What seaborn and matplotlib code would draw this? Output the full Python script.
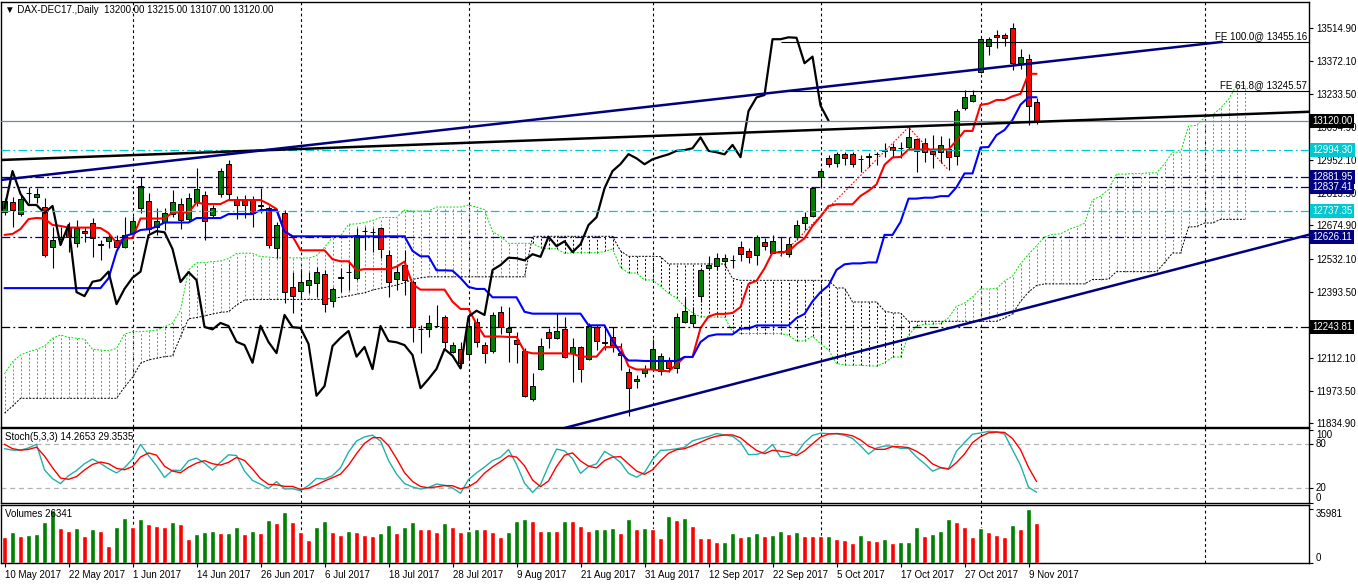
import numpy as np
import pandas as pd
import matplotlib
matplotlib.use("Agg")
import matplotlib.pyplot as plt
import seaborn as sns

# daily bars of DAX-DEC17
open_ = [12732, 12776, 12724, 12813, 12796, 12753, 12584, 12618, 12668, 12601,
         12651, 12686, 12596, 12610, 12613, 12584, 12644, 12749, 12779, 12670,
         12691, 12724, 12766, 12702, 12775, 12804, 12719, 12809, 12936, 12783,
         12787, 12783, 12762, 12749, 12579, 12728, 12414, 12398, 12422, 12429,
         12468, 12356, 12456, 12477, 12451, 12653, 12647, 12664, 12550, 12448,
         12507, 12435, 12235, 12235, 12249, 12286, 12138, 12150, 12128, 12265,
         12167, 12143, 12309, 12224, 12189, 12142, 11938, 12065, 12223, 12198,
         12235, 12135, 12159, 12108, 12244, 12177, 12201, 12132, 12054, 12014,
         12050, 12067, 12057, 12105, 12068, 12266, 12262, 12377, 12493, 12504,
         12525, 12528, 12582, 12567, 12550, 12606, 12559, 12567, 12553, 12625,
         12684, 12715, 12880, 12963, 12942, 12978, 12977, 12957, 12968, 12978,
         12993, 13007, 13004, 13007, 13041, 13024, 12991, 12988, 12998, 12971,
         13175, 13205, 13328, 13437, 13484, 13484, 13512, 13366, 13381, 13200]
high = [12792, 12796, 12804, 12838, 12834, 12792, 12668, 12668, 12690, 12698,
        12668, 12707, 12613, 12643, 12634, 12711, 12715, 12881, 12813, 12749,
        12749, 12826, 12792, 12813, 12919, 12821, 12762, 12919, 12953, 12800,
        12804, 12800, 12834, 12758, 12690, 12741, 12479, 12486, 12479, 12500,
        12486, 12415, 12494, 12520, 12664, 12670, 12664, 12670, 12571, 12507,
        12571, 12443, 12252, 12295, 12337, 12295, 12181, 12181, 12295, 12282,
        12181, 12309, 12333, 12330, 12224, 12155, 12048, 12197, 12240, 12305,
        12288, 12197, 12164, 12261, 12252, 12245, 12244, 12176, 12070, 12040,
        12082, 12193, 12133, 12116, 12303, 12367, 12330, 12494, 12545, 12559,
        12554, 12550, 12609, 12578, 12635, 12621, 12635, 12627, 12625, 12698,
        12733, 12840, 12918, 12974, 12988, 12988, 12988, 12974, 12981, 12988,
        13025, 13025, 13029, 13092, 13045, 13045, 13059, 13055, 13045, 13168,
        13250, 13250, 13471, 13474, 13505, 13494, 13536, 13423, 13403, 13215]
low = [12719, 12668, 12715, 12770, 12770, 12541, 12494, 12596, 12562, 12584,
       12605, 12541, 12528, 12579, 12579, 12579, 12626, 12728, 12643, 12634,
       12656, 12711, 12660, 12690, 12758, 12613, 12707, 12796, 12783, 12702,
       12707, 12668, 12728, 12579, 12537, 12346, 12305, 12367, 12388, 12372,
       12309, 12330, 12394, 12401, 12443, 12571, 12564, 12537, 12373, 12401,
       12380, 12181, 12135, 12203, 12245, 12155, 12132, 12070, 12112, 12160,
       12091, 12132, 12214, 12096, 12092, 11947, 11931, 12061, 12155, 12193,
       12112, 12012, 12012, 12104, 12146, 12146, 12139, 12061, 11866, 11985,
       12032, 12061, 12040, 12053, 12048, 12261, 12245, 12351, 12486, 12486,
       12500, 12494, 12525, 12517, 12507, 12571, 12557, 12545, 12542, 12613,
       12656, 12711, 12840, 12925, 12925, 12932, 12925, 12903, 12925, 12932,
       12966, 12966, 12961, 12995, 12903, 12946, 12918, 12939, 12911, 12932,
       13165, 13201, 13321, 13399, 13427, 13437, 13335, 13338, 13102, 13107]
close = [12779, 12741, 12787, 12811, 12809, 12550, 12613, 12626, 12626, 12664,
         12643, 12622, 12594, 12626, 12584, 12634, 12695, 12843, 12660, 12695,
         12728, 12775, 12698, 12792, 12830, 12695, 12749, 12906, 12809, 12762,
         12762, 12728, 12758, 12592, 12677, 12392, 12375, 12436, 12443, 12479,
         12341, 12406, 12453, 12479, 12634, 12651, 12646, 12575, 12435, 12477,
         12443, 12244, 12234, 12261, 12248, 12181, 12167, 12092, 12249, 12180,
         12133, 12295, 12243, 12240, 12172, 11952, 11993, 12163, 12198, 12227,
         12118, 12159, 12065, 12248, 12184, 12179, 12167, 12125, 11984, 12023,
         12066, 12150, 12122, 12068, 12288, 12313, 12295, 12486, 12507, 12538,
         12536, 12527, 12553, 12542, 12627, 12587, 12608, 12562, 12595, 12677,
         12710, 12833, 12906, 12936, 12978, 12960, 12935, 12956, 12967, 12977,
         12992, 12995, 13003, 13049, 12992, 12986, 12977, 13017, 12965, 13161,
         13219, 13229, 13466, 13466, 13474, 13472, 13364, 13392, 13184, 13120]
volume = [17380, 20510, 18050, 18720, 19390, 27460, 35600, 23430, 21410, 23430,
          18050, 22760, 21410, 11320, 24100, 30150, 24100, 29480, 26120, 24770,
          24100, 27460, 26120, 16030, 19390, 20740, 21410, 20070, 20290, 24100,
          19390, 21410, 20070, 28810, 26790, 34190, 27460, 20740, 15360, 24100,
          28140, 20740, 18720, 21410, 20740, 18720, 18050, 20070, 25450, 20070,
          24100, 27460, 22760, 22650, 20740, 26570, 23880, 20510, 21190, 22530,
          22420, 20510, 17150, 20510, 27910, 29260, 27910, 21190, 21410, 21190,
          27910, 27800, 24550, 21190, 22530, 22640, 23210, 19840, 29260, 22530,
          23210, 22530, 16480, 31280, 28590, 29930, 24550, 16480, 16370, 13790,
          13900, 19840, 17150, 18050, 20070, 18050, 18720, 21410, 19390, 20740,
          18050, 17940, 17830, 18050, 15810, 15140, 13350, 18500, 15360, 14690,
          16030, 13350, 14010, 14120, 24100, 18050, 19390, 21410, 29260, 27460,
          24100, 17380, 23430, 20740, 18720, 17380, 25450, 22760, 35981, 26341]

# indicator values before a full window exists (depend on earlier history)
tenkan_early = [12635, 12639, 12660, 12702, 12707, 12704, 12677, 12673]
kijun_early = [12409, 12409, 12409, 12409, 12409, 12409, 12409, 12409, 12409, 12409,
               12409, 12409, 12409, 12451, 12564, 12630, 12639, 12656, 12659, 12670]
span_a_early = [12045, 12096, 12125, 12139, 12149, 12163, 12196, 12210, 12200, 12196,
                12192, 12149, 12146, 12143, 12153, 12214, 12224, 12224, 12227, 12231,
                12245, 12260, 12316, 12486, 12517, 12517]
span_b_early = [11878, 11908, 11941, 11941, 11941, 11941, 11941, 11941, 11941, 11941,
                11941, 11941, 11941, 11941, 11941, 11989, 12030, 12090, 12104, 12111,
                12118, 12121, 12203, 12279, 12284, 12291, 12299, 12306, 12309, 12337,
                12358, 12361, 12361, 12361, 12361, 12361, 12361, 12361, 12361, 12361,
                12361, 12366, 12370, 12376, 12383, 12389, 12401, 12408, 12415, 12422,
                12432, 12446, 12453, 12457, 12457, 12457, 12457, 12457, 12457, 12457,
                12457, 12457, 12457, 12457, 12457, 12457]
k_early = [74, 72, 72, 75, 80, 45]
d_early = [80, 74, 72, 73, 76, 64, 48, 34]

date_idx = [0, 8, 16, 24, 32, 40, 48, 56, 64, 72, 80, 88, 96, 104, 112, 120, 128]
date_labels = ["10 May 2017", "22 May 2017", "1 Jun 2017", "14 Jun 2017", "26 Jun 2017",
               "6 Jul 2017", "18 Jul 2017", "28 Jul 2017", "9 Aug 2017", "21 Aug 2017",
               "31 Aug 2017", "12 Sep 2017", "22 Sep 2017", "5 Oct 2017", "17 Oct 2017",
               "27 Oct 2017", "9 Nov 2017"]
month_idx = [16, 37, 58, 81, 102, 122, 150]
price_ticks = [13514.90, 13372.10, 13233.50, 13094.90, 12952.10, 12813.50, 12674.90,
               12532.10, 12393.50, 12112.10, 11973.50, 11834.90]

levels = [12994.30, 12881.95, 12837.41, 12737.35, 12626.11, 12243.81]
level_kind = ["cyan", "navy", "navy", "cyan", "navy", "black"]
bid = 13120.00
fe_levels = [13455.16, 13245.57]
fe_names = ["FE 100.0@ 13455.16", "FE 61.8@ 13245.57"]
fe_x = [97, 113, 118]
fe_y = [12545, 13092, 12911]
tl_upper = ([-0.56, 152.3], [12868, 13455])
tl_black = ([-0.56, 163.2], [12953, 13158])
tl_lower = ([70, 163.2], [11815, 12637])
stoch_title = "Stoch(5,3,3) 14.2653 29.3535"

GREEN, RED, NAVY, CYAN, LIME = "#008000", "#ff0000", "#000080", "#00c8d2", "#00e000"
kind_color = {"cyan": CYAN, "navy": NAVY, "black": "black"}
FS = 7.0

sns.set_theme(style="white")
plt.rcParams["font.family"] = ["Liberation Sans", "DejaVu Sans"]
plt.rcParams.update({"axes.edgecolor": "black", "axes.linewidth": 1.0,
                     "xtick.color": "black", "ytick.color": "black", "text.color": "black"})

bars = pd.DataFrame({"i": np.arange(len(close)), "open": open_, "high": high,
                     "low": low, "close": close, "volume": volume})
n = len(bars)
hi, lo, cl = bars["high"], bars["low"], bars["close"]

tenkan = (hi.rolling(9, min_periods=1).max() + lo.rolling(9, min_periods=1).min()) / 2
tenkan.iloc[:len(tenkan_early)] = tenkan_early
kijun = (hi.rolling(26, min_periods=1).max() + lo.rolling(26, min_periods=1).min()) / 2
kijun.iloc[:len(kijun_early)] = kijun_early
span_b_calc = (hi.rolling(52, min_periods=1).max() + lo.rolling(52, min_periods=1).min()) / 2
span_a = np.concatenate([span_a_early, ((tenkan + kijun) / 2).values])
span_b = np.concatenate([span_b_early, span_b_calc.values[len(span_b_early) - 26:]])
cloud = pd.DataFrame({"i": np.arange(len(span_a)), "a": span_a, "b": span_b})
chikou = pd.DataFrame({"i": np.arange(n - 26), "v": cl.values[26:]})

ll, hh = lo.rolling(5).min(), hi.rolling(5).max()
k = 100 * (cl - ll).rolling(3).sum() / (hh - ll).rolling(3).sum()
k.iloc[:len(k_early)] = k_early
d = k.rolling(3).mean()
d.iloc[:len(d_early)] = d_early

W, H = 1358, 584
def frame(l, t, r, b):
    return [l / W, 1 - b / H, (r - l) / W, (b - t) / H]

fig = plt.figure(figsize=(W / 100, H / 100), dpi=100)
ax = fig.add_axes(frame(1, 2, 1309, 427))
ax_st = fig.add_axes(frame(1, 428, 1309, 503), sharex=ax)
ax_v = fig.add_axes(frame(1, 505, 1309, 563), sharex=ax)

for a in (ax, ax_st, ax_v):
    for g in month_idx:
        a.axvline(g, color="black", lw=0.8, ls=(0, (2.5, 2.5)), zorder=0.5)
    a.yaxis.tick_right()
    a.tick_params(axis="y", right=True, left=False, length=3, width=0.8, pad=2, labelsize=FS)
    a.tick_params(axis="x", bottom=False, labelbottom=False)

# ichimoku cloud
up = cloud["a"] >= cloud["b"]
ax.vlines(cloud["i"][up], cloud["b"][up], cloud["a"][up], colors=LIME, lw=0.7,
          linestyles=(0, (2, 2)), zorder=1)
ax.vlines(cloud["i"][~up], cloud["a"][~up], cloud["b"][~up], colors="black", lw=0.7,
          linestyles=(0, (2, 2)), zorder=1)
ax.plot(cloud["i"], cloud["a"], color=LIME, lw=0.7, ls=(0, (2, 1.5)), zorder=1.2)
ax.plot(cloud["i"], cloud["b"], color="black", lw=0.7, ls=(0, (2, 1.5)), zorder=1.2)

# candles
rise = bars["close"] >= bars["open"]
ax.vlines(bars["i"], bars["low"], bars["high"], color="black", lw=0.8, zorder=3)
body_lo = np.minimum(bars["open"], bars["close"])
body_h = np.maximum((bars["close"] - bars["open"]).abs(), 1.5)
ax.bar(bars["i"], body_h, bottom=body_lo, width=0.58,
       color=np.where(rise, GREEN, RED), edgecolor="black", linewidth=0.7, zorder=3.2)

# ichimoku lines
sns.lineplot(x=bars["i"], y=tenkan, ax=ax, color="red", linewidth=1.5, legend=False, zorder=4)
sns.lineplot(x=bars["i"], y=kijun, ax=ax, color="blue", linewidth=1.5, legend=False, zorder=4)
sns.lineplot(data=chikou, x="i", y="v", ax=ax, color="black", linewidth=1.6, legend=False, zorder=4)

# objects
for p, kind in zip(levels, level_kind):
    ax.axhline(p, color=kind_color[kind], lw=0.9, ls=(0, (7, 2.5, 1.5, 2.5)), zorder=5)
ax.axhline(bid, color="#778899", lw=0.9, zorder=5)
ax.hlines(fe_levels, fe_x[0], 163.5, color="black", lw=0.8, zorder=5)
ax.plot(fe_x, fe_y, color="red", lw=0.8, ls=(0, (1.5, 1.5)), zorder=5)
ax.plot(*tl_black, color="black", lw=1.8, zorder=5.5, solid_capstyle="butt")
ax.plot(*tl_upper, color=NAVY, lw=1.8, zorder=5.5, solid_capstyle="butt")
ax.plot(*tl_lower, color=NAVY, lw=1.8, zorder=5.5, solid_capstyle="butt")
for p, name in zip(fe_levels, fe_names):
    ax.annotate(name, xy=(1, p), xycoords=ax.get_yaxis_transform(), xytext=(-2, 1),
                textcoords="offset pixels", ha="right", va="bottom", fontsize=FS)

ax.set_xlim(-0.44, 163.06)
ax.set_ylim(11819.2, 13624.0)
ax.set_yticks(price_ticks)
ax.set_yticklabels([f"{t:.2f}" for t in price_ticks])
ax.set_xlabel("")
ax.set_ylabel("")

for p, kind in zip(levels + [bid], level_kind + ["black"]):
    ax.text(1.0025, p, f"{p:.2f}", transform=ax.get_yaxis_transform(), ha="left", va="center",
            color="white", fontsize=FS, clip_on=False, zorder=10,
            bbox=dict(boxstyle="square,pad=0.2", fc=kind_color[kind], ec="none"))

header = "\u25bc DAX-DEC17.,Daily  " + " ".join(
    f"{v:.2f}" for v in (open_[-1], high[-1], low[-1], close[-1]))
ax.annotate(header, xy=(0, 1), xycoords="axes fraction", xytext=(4, -8),
            textcoords="offset pixels", ha="left", va="center", fontsize=FS)

# stochastic
stoch = pd.DataFrame({"i": bars["i"], "k": k, "d": d})
sns.lineplot(data=stoch, x="i", y="k", ax=ax_st, color="#20b2aa", linewidth=1.0, legend=False)
sns.lineplot(data=stoch, x="i", y="d", ax=ax_st, color="red", linewidth=1.0, legend=False)
for lv in (80, 20):
    ax_st.axhline(lv, color="#b4b4b4", lw=0.9, ls=(0, (4, 3)), zorder=0.6)
ax_st.set_ylim(-0.04, 102.2)
ax_st.set_yticks([100, 80, 20, 0])
ax_st.set_yticklabels(["100", "80", "20", "0"])
for lab, va in zip(ax_st.get_yticklabels(), ["top", "center", "center", "bottom"]):
    lab.set_va(va)
ax_st.set_xlabel("")
ax_st.set_ylabel("")
ax_st.annotate(stoch_title, xy=(0, 1), xycoords="axes fraction", xytext=(4, -9),
               textcoords="offset pixels", ha="left", va="center", fontsize=FS)

# volumes
vol = bars["volume"].values
vol_up = np.concatenate([[False], vol[1:] > vol[:-1]])
ax_v.bar(bars["i"], vol, width=0.6, color=np.where(vol_up, GREEN, RED), zorder=2)
ax_v.set_ylim(0, 38660)
ax_v.set_yticks([35981, 0])
ax_v.set_yticklabels(["35981", "0"])
for lab, va in zip(ax_v.get_yticklabels(), ["top", "bottom"]):
    lab.set_va(va)
ax_v.annotate(f"Volumes {vol[-1]}", xy=(0, 1), xycoords="axes fraction", xytext=(4, -9),
              textcoords="offset pixels", ha="left", va="center", fontsize=FS)
ax_v.set_xticks(date_idx)
ax_v.set_xticklabels(date_labels, ha="left")
ax_v.tick_params(axis="x", bottom=True, labelbottom=True, length=3, width=0.8, pad=2,
                 labelsize=FS)
ax_v.set_xlim(-0.44, 163.06)

fig.savefig("out.png", dpi=100, facecolor="white")
